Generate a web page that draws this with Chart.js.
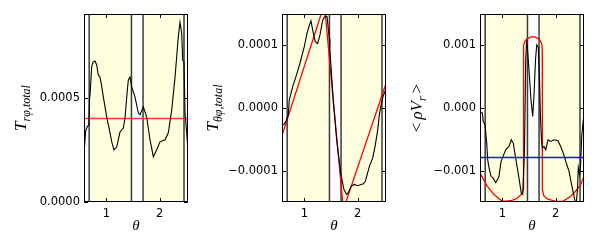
<!DOCTYPE html>
<html>
<head>
<meta charset="utf-8">
<script src="https://cdn.jsdelivr.net/npm/chart.js@4.4.1/dist/chart.umd.min.js"></script>
<style>
  html, body { margin: 0; padding: 0; background: #fff; }
  #wrap { position: relative; width: 598px; height: 244px; overflow: hidden; }
  canvas { position: absolute; top: 0; }
</style>
</head>
<body>
<div id="wrap">
  <canvas id="c1" width="198" height="244" style="left:0px"></canvas>
  <canvas id="c2" width="198" height="244" style="left:198px"></canvas>
  <canvas id="c3" width="198" height="244" style="left:396px"></canvas>
</div>
<script>
// ---------------- data (theta) ----------------
const thetaMin = 0.58, thetaMax = 2.53;
const xTicks = [1, 2];
const xTickLabels = ['1', '2'];
const regionEdges = [0.677, 1.47, 1.687, 2.455];      // vertical lines
const shadedRegions = [[0.677, 1.47], [1.687, 2.455]]; // yellow bands

// panel 1: T_rphi,total
const p1Theta = [0.58, 0.61, 0.64, 0.67, 0.683, 0.695, 0.724, 0.749, 0.786, 0.818, 0.848, 0.88, 0.908, 0.942,
  1.006, 1.068, 1.105, 1.143, 1.193, 1.255, 1.317, 1.349, 1.381, 1.411, 1.443, 1.474, 1.536, 1.598, 1.63,
  1.692, 1.754, 1.818, 1.88, 1.943, 2.005, 2.099, 2.161, 2.225, 2.287, 2.348, 2.38, 2.412, 2.431, 2.455,
  2.474, 2.506, 2.53];
const p1Black = [0.000226, 0.00034, 0.00036, 0.00037, 0.00049, 0.00052, 0.000647, 0.00067, 0.000675, 0.000656,
  0.000608, 0.000598, 0.00056, 0.000503, 0.000408, 0.000331, 0.000283, 0.000249, 0.000263, 0.000335, 0.000354,
  0.000402, 0.000503, 0.000584, 0.000598, 0.000551, 0.000503, 0.000427, 0.000418, 0.000456, 0.000408, 0.000298,
  0.000217, 0.00025, 0.000288, 0.000298, 0.000331, 0.000441, 0.000598, 0.00079, 0.00086, 0.000808, 0.000679,
  0.00067, 0.000426, 0.000331, 0.00024];
const p1RedTheta = [0.58, 2.53];
const p1Red = [0.0004, 0.0004];
const p1YTicks = [0, 0.0005];
const p1YLabels = ['0.0000', '0.0005'];

// panel 2: T_thetaphi,total
const p2Theta = [0.58, 0.62, 0.66, 0.698, 0.717, 0.78, 0.842, 0.917, 0.998, 1.049, 1.092, 1.124, 1.156, 1.204,
  1.249, 1.293, 1.343, 1.392, 1.424, 1.467, 1.478, 1.54, 1.605, 1.68, 1.742, 1.793, 1.83, 1.874, 1.936, 2.0,
  2.105, 2.142, 2.168, 2.218, 2.281, 2.33, 2.375, 2.405, 2.437, 2.48, 2.53];
const p2Black = [-0.000027, -0.000026, -0.00002, -0.0000108, 0.000013, 0.0000342, 0.00005, 0.0000714, 0.0000979,
  0.000119, 0.000132, 0.000139, 0.000124, 0.000106, 0.000103, 0.000117, 0.00014, 0.000147, 0.000146, 0.000111,
  0.0000926, 0.000013, -0.0000507, -0.000104, -0.00013, -0.000138, -0.000134, -0.000125, -0.000122, -0.000124,
  -0.000121, -0.000117, -0.000109, -0.0000932, -0.00008, -0.0000587, -0.0000348, -0.0000109, 0.000005,
  0.00002, 0.00003];
const p2RedTheta = [0.58, 1.375, 1.731, 2.53];
const p2Red = [-0.000044, 0.000166, -0.000162, 0.000039];
const p2YTicks = [-0.0001, 0, 0.0001];
const p2YLabels = ['\u22120.0001', '0.0000', '0.0001'];

// panel 3: <rho V_r>
const p3Theta = [0.58, 0.623, 0.642, 0.674, 0.706, 0.724, 0.749, 0.786, 0.829, 0.874, 0.908, 0.936, 0.974, 0.998,
  1.062, 1.124, 1.167, 1.204, 1.249, 1.311, 1.354, 1.381, 1.414, 1.437, 1.452, 1.467, 1.499, 1.536, 1.568,
  1.593, 1.621, 1.643, 1.673, 1.696, 1.714, 1.733, 1.748, 1.78, 1.812, 1.855, 1.906, 1.968, 2.043, 2.093,
  2.142, 2.187, 2.249, 2.311, 2.356, 2.38, 2.408, 2.423, 2.446, 2.464, 2.487, 2.517, 2.53];
const p3Black = [-0.000057, -0.000082, -0.000216, -0.000268, -0.00056, -0.000826, -0.00095, -0.00109, -0.00112,
  -0.00119, -0.00114, -0.00109, -0.00086, -0.0008, -0.000667, -0.000614, -0.000507, -0.00056, -0.0008, -0.00112,
  -0.00136, -0.00138, -0.00067, 0.00077, 0.00105, 0.00099, 0.0006, 0.00013, -0.000136, 0.00021, 0.00077,
  0.001006, 0.00097, 0.00045, -0.00016, -0.00051, -0.00064, -0.000614, -0.000667, -0.000507, -0.000534,
  -0.000507, -0.000523, -0.000614, -0.00072, -0.00085, -0.00101, -0.00128, -0.00146, -0.00156, -0.0013,
  -0.00095, -0.00106, -0.00095, -0.000455, -0.000189, -0.00008];
const p3RedTheta = [0.58, 0.717, 0.842, 0.998, 1.156, 1.28, 1.36, 1.385, 1.392, 1.394, 1.40, 1.42, 1.46, 1.52,
  1.571, 1.62, 1.68, 1.72, 1.742, 1.748, 1.75, 1.775, 1.842, 1.999, 2.136, 2.281, 2.38, 2.468, 2.53];
const p3Red = [-0.00104, -0.00125, -0.00138, -0.00149, -0.00148, -0.00144, -0.00137, -0.00132, -0.0013, 0.0009,
  0.001, 0.00106, 0.0011, 0.00113, 0.00114, 0.00113, 0.0011, 0.00106, 0.001, 0.0009, -0.0013, -0.0014, -0.00145,
  -0.00149, -0.00149, -0.00141, -0.00132, -0.00122, -0.00109];
const p3BlueTheta = [0.58, 2.53];
const p3Blue = [-0.00079, -0.00079];
const p3YTicks = [-0.001, 0, 0.001];
const p3YLabels = ['\u22120.001', '0.000', '0.001'];

// ---------------- helpers ----------------
const pts = (xs, ys) => xs.map((x, i) => ({ x: x, y: ys[i] }));

const SERIF_I = "italic 17px 'Liberation Serif'";
const SERIF_I_SUB = "italic 12px 'Liberation Serif'";
const SERIF_UP = "17px 'Liberation Serif'";

function drawMath(ctx, parts, cx, cy, rotate) {
  ctx.save();
  ctx.translate(cx, cy);
  if (rotate) ctx.rotate(-Math.PI / 2);
  let total = 0;
  parts.forEach(p => { ctx.font = p.font; total += ctx.measureText(p.t).width + (p.gap || 0); });
  let x = -total / 2;
  ctx.textBaseline = 'alphabetic';
  ctx.textAlign = 'left';
  ctx.fillStyle = '#000';
  parts.forEach(p => {
    ctx.font = p.font;
    ctx.fillText(p.t, x, p.dy || 0);
    x += ctx.measureText(p.t).width + (p.gap || 0);
  });
  ctx.restore();
}

// yellow bands, vertical lines, frame, inward ticks, axis labels
const panelDeco = {
  id: 'panelDeco',
  beforeDatasetsDraw(chart, args, opts) {
    const { ctx, chartArea: a, scales: { x } } = chart;
    ctx.save();
    ctx.fillStyle = '#ffffe0';
    shadedRegions.forEach(r => {
      const x0 = x.getPixelForValue(r[0]), x1 = x.getPixelForValue(r[1]);
      ctx.fillRect(x0, a.top, x1 - x0, a.bottom - a.top);
    });
    ctx.strokeStyle = '#3a3a3a';
    ctx.lineWidth = 1.5;
    regionEdges.forEach(v => {
      const px = x.getPixelForValue(v);
      ctx.beginPath();
      ctx.moveTo(px, a.top);
      ctx.lineTo(px, a.bottom);
      ctx.stroke();
    });
    ctx.restore();
  },
  afterDraw(chart, args, opts) {
    const { ctx, chartArea: a, scales: { x, y } } = chart;
    ctx.save();
    ctx.strokeStyle = '#000';
    ctx.lineWidth = 1;
    ctx.strokeRect(Math.round(a.left) + 0.5, Math.round(a.top) + 0.5,
      Math.round(a.right - a.left) - 1, Math.round(a.bottom - a.top) - 1);
    const tl = 4;
    ctx.beginPath();
    x.ticks.forEach(t => {
      const px = Math.round(x.getPixelForValue(t.value)) + 0.5;
      ctx.moveTo(px, a.bottom); ctx.lineTo(px, a.bottom - tl);
      ctx.moveTo(px, a.top); ctx.lineTo(px, a.top + tl);
    });
    y.ticks.forEach(t => {
      const py = Math.round(y.getPixelForValue(t.value)) + 0.5;
      ctx.moveTo(a.left, py); ctx.lineTo(a.left + tl, py);
      ctx.moveTo(a.right, py); ctx.lineTo(a.right - tl, py);
    });
    ctx.stroke();
    ctx.restore();

    drawMath(ctx, opts.yLabel, a.left + opts.yLabelDx, (a.top + a.bottom) / 2, true);
    drawMath(ctx, [{ t: 'θ', font: "italic 15px 'Liberation Serif'" }],
      (a.left + a.right) / 2, 230, false);
  }
};

function makePanel(id, datasets, yMin, yMax, yTicks, yLabels, yLabel, yLabelDx) {
  return new Chart(document.getElementById(id), {
    type: 'scatter',
    data: { datasets: datasets },
    options: {
      responsive: false,
      animation: false,
      devicePixelRatio: 1,
      layout: { padding: { top: 14, right: 10, left: 0, bottom: 0 } },
      elements: { point: { radius: 0 } },
      plugins: {
        legend: { display: false },
        tooltip: { enabled: false },
        panelDeco: { yLabel: yLabel, yLabelDx: yLabelDx }
      },
      scales: {
        x: {
          type: 'linear', min: thetaMin, max: thetaMax,
          grid: { display: false, drawTicks: false },
          border: { display: false },
          afterBuildTicks: s => { s.ticks = xTicks.map(v => ({ value: v })); },
          afterFit: s => { s.height = 42; },
          ticks: {
            padding: 5, color: '#000', maxRotation: 0,
            font: { family: 'DejaVu Sans', size: 11.5 },
            callback: (v, i) => xTickLabels[i]
          }
        },
        y: {
          type: 'linear', min: yMin, max: yMax,
          grid: { display: false, drawTicks: false },
          border: { display: false },
          afterBuildTicks: s => { s.ticks = yTicks.map(v => ({ value: v })); },
          afterFit: s => { s.width = 84; },
          ticks: {
            padding: 4, color: '#000',
            font: { family: 'DejaVu Sans', size: 11.5 },
            callback: (v, i) => yLabels[i]
          }
        }
      }
    },
    plugins: [panelDeco]
  });
}

function line(data, color, width) {
  return { data: data, showLine: true, borderColor: color, backgroundColor: color, borderWidth: width,
           pointRadius: 0, fill: false, tension: 0, clip: 0 };
}

// ---------------- charts ----------------
makePanel('c1', [
  line(pts(p1Theta, p1Black), '#000000', 1.1),
  line(pts(p1RedTheta, p1Red), '#ff3333', 1.4)
], 0, 0.0009, p1YTicks, p1YLabels,
  [{ t: 'T', font: SERIF_I, gap: 0 }, { t: 'rφ,total', font: SERIF_I_SUB, dy: 4 }], -58);

makePanel('c2', [
  line(pts(p2Theta, p2Black), '#000000', 1.1),
  line(pts(p2RedTheta, p2Red), '#ff0000', 1.3)
], -0.00015, 0.00015, p2YTicks, p2YLabels,
  [{ t: 'T', font: SERIF_I, gap: 0 }, { t: 'θφ,total', font: SERIF_I_SUB, dy: 4 }], -64);

makePanel('c3', [
  line(pts(p3BlueTheta, p3Blue), 'rgb(20,20,255)', 1.4),
  line(pts(p3Theta, p3Black), '#000000', 1.1),
  line(pts(p3RedTheta, p3Red), '#ff0000', 1.3)
], -0.0015, 0.0015, p3YTicks, p3YLabels,
  [{ t: '<', font: SERIF_UP, gap: 3 }, { t: 'ρV', font: SERIF_I, gap: 0 },
   { t: 'r', font: SERIF_I_SUB, dy: 4, gap: 3 }, { t: '>', font: SERIF_UP }], -58);
</script>
</body>
</html>
